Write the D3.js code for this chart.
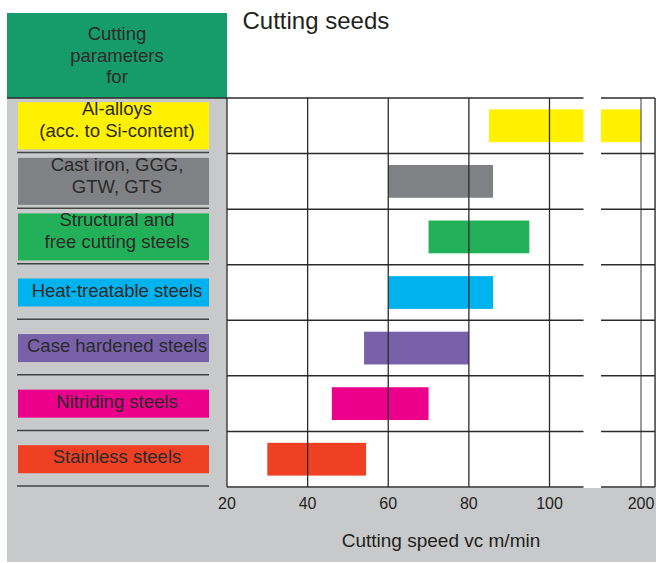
<!DOCTYPE html>
<html>
<head>
<meta charset="utf-8">
<script src="https://cdn.jsdelivr.net/npm/d3@7"></script>
<style>
  html, body { margin: 0; padding: 0; background: #fff; }
  svg { display: block; font-family: "Liberation Sans", Arial, Helvetica, sans-serif; }
</style>
</head>
<body>
<svg id="chart" width="656" height="563"></svg>
<script>
// ---- Data ----
const title = "Cutting seeds";
const headerLines = ["Cutting", "parameters", "for"];
const categories = [
  ["Al-alloys", "(acc. to Si-content)"],
  ["Cast iron, GGG,", "GTW, GTS"],
  ["Structural and", "free cutting steels"],
  ["Heat-treatable steels"],
  ["Case hardened steels"],
  ["Nitriding steels"],
  ["Stainless steels"]
];
const speedMin = [85, 60, 70, 60, 54, 46, 30];
const speedMax = [200, 86, 95, 86, 80, 70, 54.5];
const colors = ["#fff100", "#808184", "#22b159", "#00b2ed", "#7961aa", "#ec008b", "#ef4023"];
const ticksMain = [20, 40, 60, 80, 100];
const ticksHigh = [200];
const axisTitle = "Cutting speed vc m/min";

// ---- Layout ----
const svg = d3.select("#chart");
const textColor = "#231f20";
const panelGray = "#c8c9cb";
const headerGreen = "#169b6b";
const plotLeft = 227, plotTop = 98, plotBottom = 487;
const breakStart = 583.5, breakEnd = 601, plotRight = 655;

const xMain = d3.scaleLinear().domain([20, 100]).range([plotLeft, 549.5]);
const xHigh = d3.scaleLinear().domain([150, 200]).range([breakEnd, 641]);
const mainMaxValue = xMain.invert(breakStart);

const y = d3.scaleBand()
  .domain(d3.range(categories.length))
  .range([plotTop, plotBottom])
  .paddingInner(0.41)
  .paddingOuter(0.205);
const step = y.step();
const rowTop = i => plotTop + i * step;
const rowCenter = i => y(i) + y.bandwidth() / 2;

// gray panel
svg.append("rect").attr("x", 7).attr("y", plotTop).attr("width", 649).attr("height", 562 - plotTop).attr("fill", panelGray);
// header
svg.append("rect").attr("x", 7).attr("y", 13).attr("width", plotLeft - 7).attr("height", plotTop - 13).attr("fill", headerGreen);
svg.append("g").selectAll("text").data(headerLines).join("text")
  .attr("x", 117).attr("y", (d, i) => 40 + i * 21.7)
  .attr("text-anchor", "middle").attr("font-size", 18.5).attr("fill", "#2a2a2a")
  .text(d => d);

// title
svg.append("text").attr("x", 242.5).attr("y", 28.5).attr("font-size", 24).attr("fill", textColor).text(title);

// plot white area (including break gap)
svg.append("rect").attr("x", plotLeft).attr("y", plotTop).attr("width", plotRight - plotLeft).attr("height", plotBottom - plotTop + 1).attr("fill", "#fff");

// bars
const bars = svg.append("g");
categories.forEach((c, i) => {
  const lo = speedMin[i], hi = speedMax[i];
  const x0 = xMain(lo);
  const x1 = hi > mainMaxValue ? breakStart : xMain(hi);
  bars.append("rect").attr("x", x0).attr("y", y(i)).attr("width", x1 - x0).attr("height", y.bandwidth()).attr("fill", colors[i]);
  if (hi > mainMaxValue) {
    bars.append("rect").attr("x", breakEnd).attr("y", y(i)).attr("width", xHigh(hi) - breakEnd).attr("height", y.bandwidth()).attr("fill", colors[i]);
  }
});

// vertical grid lines
const grid = svg.append("g").attr("stroke", "#2b2b2b").attr("stroke-width", 1.3);
ticksMain.slice(1).forEach(t => {
  grid.append("line").attr("x1", xMain(t)).attr("x2", xMain(t)).attr("y1", plotTop).attr("y2", plotBottom);
});
ticksHigh.forEach(t => {
  grid.append("line").attr("x1", xHigh(t)).attr("x2", xHigh(t)).attr("y1", plotTop).attr("y2", plotBottom).attr("stroke", "#666");
});
grid.append("line").attr("x1", plotRight).attr("x2", plotRight).attr("y1", plotTop).attr("y2", plotBottom);
grid.append("line").attr("x1", plotLeft).attr("x2", plotLeft).attr("y1", plotTop).attr("y2", plotBottom);

// horizontal row lines (with break)
for (let i = 0; i <= categories.length; i++) {
  const yy = rowTop(i);
  grid.append("line").attr("x1", i === 0 ? 7 : plotLeft).attr("x2", breakStart).attr("y1", yy).attr("y2", yy).attr("stroke-width", 1.5);
  grid.append("line").attr("x1", breakEnd).attr("x2", plotRight).attr("y1", yy).attr("y2", yy).attr("stroke-width", 1.5);
}

// left panel separators
const sep = svg.append("g").attr("stroke", "#444").attr("stroke-width", 1.5);
for (let i = 1; i <= categories.length; i++) {
  const yy = rowTop(i) - 1;
  sep.append("line").attr("x1", 17).attr("x2", 209).attr("y1", yy).attr("y2", yy);
}

// label boxes
const labels = svg.append("g");
categories.forEach((lines, i) => {
  const h = lines.length > 1 ? 47 : 28;
  const cy = rowCenter(i);
  labels.append("rect").attr("x", 18).attr("y", cy - h / 2).attr("width", 191).attr("height", h).attr("fill", colors[i]);
  lines.forEach((ln, j) => {
    const base = lines.length > 1 ? cy - 10.5 + j * 22 : cy + 4;
    labels.append("text").attr("x", 117).attr("y", base).attr("text-anchor", "middle")
      .attr("font-size", 18.5).attr("fill", "#2a2a2a").text(ln);
  });
});

// tick labels
const tl = svg.append("g").attr("font-size", 16).attr("fill", textColor).attr("text-anchor", "middle");
ticksMain.forEach(t => tl.append("text").attr("x", xMain(t)).attr("y", 508.5).text(t));
ticksHigh.forEach(t => tl.append("text").attr("x", xHigh(t)).attr("y", 508.5).text(t));

// axis title
svg.append("text").attr("x", 441).attr("y", 546.5).attr("text-anchor", "middle").attr("font-size", 19).attr("fill", textColor).text(axisTitle);
</script>
</body>
</html>
